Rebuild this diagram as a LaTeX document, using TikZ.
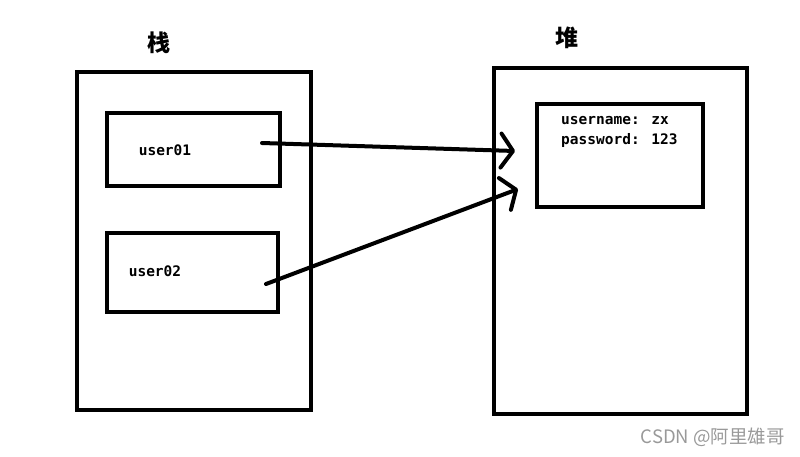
\documentclass[tikz,border=0pt]{standalone}
\usepackage{fontspec}
\setmainfont{DejaVu Sans}
\newfontfamily\cjk{Noto Sans CJK SC}
\newfontfamily\codefont{DejaVu Sans Mono}
\usetikzlibrary{positioning,calc,arrows.meta}

\begin{document}
\begin{tikzpicture}[x=1pt, y=-1pt,
    frame/.style={draw, rectangle, line width=4pt, inner sep=0pt},
    txt/.style={font=\codefont\bfseries\fontsize{14.5}{16}\selectfont, inner sep=0pt},
    title/.style={font=\cjk\bfseries\fontsize{23}{25}\selectfont, inner sep=0pt},
    ref/.style={line width=4pt, line cap=round, -{Straight Barb[length=12pt, width=34pt, round]}}]
    \useasboundingbox (0,0) rectangle (800,456);

    % Stack
    \node [frame, minimum width=234pt, minimum height=338pt] (stack) at (194,241) {};
    \node [title] (stacktitle) at (159,43) {栈};
    \node [frame, minimum width=173pt, minimum height=73pt] (u1) at (193.5,149.5) {};
    \node [txt] (u1txt) at (165,150) {user01};
    \node [frame, minimum width=171pt, minimum height=79pt] (u2) at (192.5,272.5) {};
    \node [txt] (u2txt) at (155,271) {user02};

    % Heap
    \node [frame, minimum width=253pt, minimum height=346pt] (heap) at (620.5,241) {};
    \node [title] (heaptitle) at (567,38) {堆};
    \node [frame, minimum width=166pt, minimum height=103pt] (obj) at (620,155.5) {};
    \node [txt, align=left, anchor=north west, font=\codefont\bfseries\fontsize{14.5}{20.5}\selectfont] (objtxt) at (561,116) {username: zx\\password: 123};

    % References
    \coordinate (s1) at (262,143);
    \coordinate (t1) at (515,151);
    \coordinate (s2) at (266,284);
    \coordinate (t2) at (518,189);
    \draw [ref] (s1) -- (t1);
    \draw [ref] (s2) -- (t2);

    % Watermark
    \node [font=\cjk\fontsize{18.5}{20}\selectfont, text=black!40, anchor=east, inner sep=0pt] (mark) at (785,437) {CSDN @阿里雄哥};
\end{tikzpicture}
\end{document}
